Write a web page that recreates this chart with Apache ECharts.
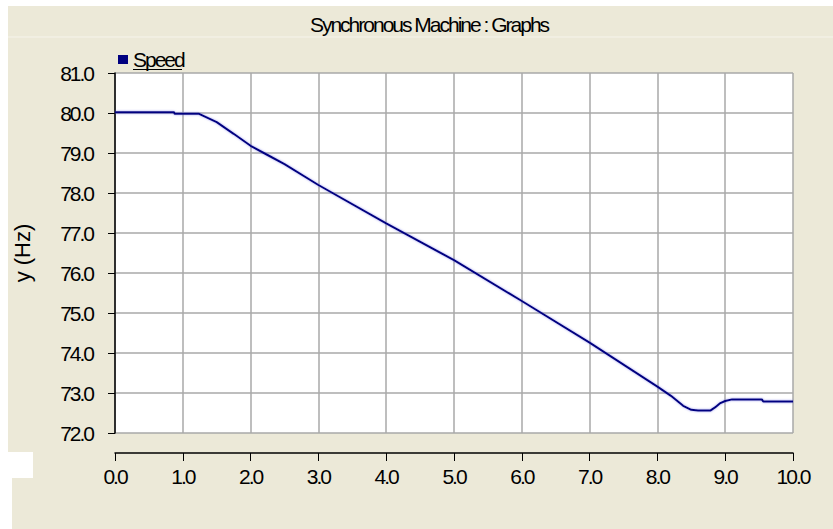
<!DOCTYPE html>
<html>
<head>
<meta charset="utf-8">
<title>Synchronous Machine : Graphs</title>
<script src="https://cdn.jsdelivr.net/npm/echarts@6.0.0/dist/echarts.min.js"></script>
<style>
  html, body { margin: 0; padding: 0; background: #ffffff; }
  #chart { width: 833px; height: 529px; }
  /* squeeze the narrow texts a bit, like the old plot window did */
  #chart text[style*="nrw"], #chart text[font-family*="nrw"] { letter-spacing: -2px; }
</style>
</head>
<body>
<div id="chart"></div>
<script>
// values
const timeValues = [0, 0.87, 0.88, 1.24, 1.5, 1.75, 2.0, 2.25, 2.5, 3.0, 4.0, 5.0, 6.0, 7.0, 8.0, 8.2, 8.38, 8.5, 8.6, 8.78, 8.85, 8.92, 9.0, 9.1, 9.54, 9.56, 10.0];
const speedValues = [80.02, 80.02, 79.98, 79.98, 79.77, 79.48, 79.18, 78.95, 78.72, 78.2, 77.24, 76.32, 75.3, 74.26, 73.16, 72.93, 72.68, 72.58, 72.56, 72.56, 72.64, 72.74, 72.8, 72.84, 72.84, 72.79, 72.79];
const seriesName = "Speed";
const titleText = "Synchronous Machine : Graphs";
const yAxisName = "y (Hz)";

const narrow = "'Liberation Sans', Arial, nrw, sans-serif";
const plain = "'Liberation Sans', Arial, sans-serif";
const beige = "#ECE9D8";

let chart = echarts.init(document.getElementById("chart"), null, { renderer: "svg" });

let option = {
  backgroundColor: "#ffffff",
  animation: false,
  title: {
    text: titleText,
    left: 424,
    top: 9,
    textAlign: "center",
    textStyle: {
      fontFamily: narrow,
      fontSize: 21,
      fontWeight: "normal",
      color: "#000000",
    },
  },
  legend: {
    left: 113,
    top: 44,
    icon: "rect",
    itemWidth: 10,
    itemHeight: 9,
    textStyle: {
      fontFamily: narrow,
      fontSize: 21,
      color: "#000000",
    },
    data: [seriesName],
  },
  graphic: [
    {
      type: "rect",
      z: -10,
      silent: true,
      shape: { x: 8, y: 6, width: 825, height: 523 },
      style: { fill: beige },
    },
    {
      type: "rect",
      z: -9,
      silent: true,
      shape: { x: 0, y: 452, width: 33, height: 26 },
      style: { fill: "#ffffff" },
    },
    {
      type: "rect",
      z: -9,
      silent: true,
      shape: { x: 0, y: 478, width: 12, height: 51 },
      style: { fill: "#ffffff" },
    },
    {
      type: "line",
      z: -8,
      silent: true,
      shape: { x1: 8, y1: 37, x2: 833, y2: 37 },
      style: { stroke: "#F6F4EC", lineWidth: 1 },
    },
    {
      // underline of the legend text
      type: "line",
      z: 10,
      silent: true,
      shape: { x1: 133, y1: 69.5, x2: 182, y2: 69.5 },
      style: { stroke: "#000000", lineWidth: 1 },
    },
  ],
  grid: {
    left: 115,
    top: 73,
    width: 678,
    height: 360,
    show: true,
    backgroundColor: "#ffffff",
    borderWidth: 0,
  },
  xAxis: {
    type: "value",
    min: 0,
    max: 10,
    interval: 1,
    offset: 20,
    axisLine: { show: true, lineStyle: { color: "#000000", width: 1.5 } },
    axisTick: { show: true, length: 8, lineStyle: { color: "#000000" } },
    axisLabel: {
      margin: 13,
      fontFamily: narrow,
      fontSize: 21,
      color: "#000000",
      formatter: (v) => v.toFixed(1),
    },
    splitLine: { show: true, lineStyle: { color: "#A8A8A8", width: 1.5 } },
  },
  yAxis: {
    type: "value",
    min: 72,
    max: 81,
    interval: 1,
    name: yAxisName,
    nameLocation: "middle",
    nameRotate: 90,
    nameGap: 82,
    nameTextStyle: {
      fontFamily: plain,
      fontSize: 22,
      color: "#000000",
    },
    axisLine: { show: true, lineStyle: { color: "#000000", width: 1.5 } },
    axisTick: { show: true, length: 7, lineStyle: { color: "#000000" } },
    axisLabel: {
      margin: 22,
      fontFamily: narrow,
      fontSize: 21,
      color: "#000000",
      formatter: (v) => v.toFixed(1),
    },
    splitLine: { show: true, lineStyle: { color: "#A8A8A8", width: 1.5 } },
  },
  series: [
    {
      name: seriesName,
      type: "line",
      showSymbol: false,
      itemStyle: { color: "#000080" },
      lineStyle: {
        color: "#000080",
        width: 2,
        shadowColor: "rgba(90, 90, 230, 0.6)",
        shadowBlur: 2,
      },
      data: timeValues.map((t, i) => [t, speedValues[i]]),
    },
  ],
};

chart.setOption(option);
window.onresize = function () {
  chart.resize();
};
</script>
</body>
</html>
